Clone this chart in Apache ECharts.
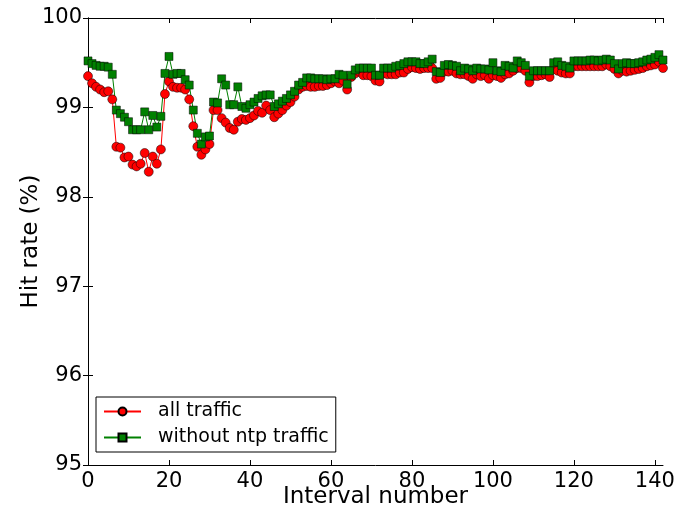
<!DOCTYPE html>
<html>
<head>
<meta charset="utf-8">
<script src="https://cdn.jsdelivr.net/npm/echarts@6/dist/echarts.min.js"></script>
<style>
html,body{margin:0;padding:0;background:#fff;}
#chart{width:689px;height:514px;}
</style>
</head>
<body>
<div id="chart"></div>
<script>
// ---- data ----
const seriesNames = ["all traffic", "without ntp traffic"];
const xTicks = [0, 20, 40, 60, 80, 100, 120, 140];
const yTicks = [95, 96, 97, 98, 99, 100];

const allTraffic = [
99.35,99.27,99.23,99.20,99.17,99.18,99.09,98.56,98.55,98.44,
98.45,98.36,98.34,98.37,98.49,98.28,98.45,98.37,98.53,99.15,
99.29,99.23,99.22,99.22,99.20,99.09,98.79,98.56,98.47,98.53,
98.59,98.97,98.97,98.88,98.83,98.77,98.75,98.84,98.87,98.86,
98.88,98.91,98.96,98.94,99.02,98.97,98.89,98.93,98.97,99.02,
99.06,99.12,99.20,99.23,99.24,99.23,99.23,99.24,99.24,99.25,
99.27,99.29,99.27,99.30,99.20,99.34,99.38,99.40,99.36,99.36,
99.35,99.30,99.29,99.38,99.37,99.37,99.37,99.39,99.39,
99.43,99.45,99.44,99.43,99.44,99.44,99.44,99.32,99.33,99.40,
99.40,99.41,99.38,99.37,99.37,99.35,99.32,99.37,99.35,99.36,
99.32,99.36,99.35,99.33,99.37,99.38,99.41,99.44,99.44,99.41,
99.28,99.35,99.35,99.36,99.37,99.34,99.43,99.41,99.39,99.38,
99.38,99.46,99.46,99.46,99.46,99.46,99.46,99.46,99.46,99.48,
99.46,99.43,99.38,99.41,99.40,99.41,99.42,99.43,99.44,99.46,
99.47,99.48,99.51,99.44
];

const withoutNtp = [
99.52,99.49,99.47,99.46,99.46,99.45,99.37,98.97,98.93,98.89,
98.84,98.75,98.75,98.75,98.95,98.75,98.91,98.78,98.90,99.38,
99.57,99.37,99.38,99.38,99.31,99.25,98.97,98.71,98.59,98.67,
98.68,99.06,99.05,99.32,99.25,99.03,99.03,99.23,99.01,98.99,
99.03,99.06,99.10,99.13,99.14,99.14,99.01,99.04,99.07,99.10,
99.14,99.18,99.25,99.28,99.33,99.33,99.32,99.32,99.32,99.31,
99.32,99.32,99.37,99.36,99.26,99.36,99.42,99.44,99.44,99.44,
99.44,99.36,99.36,99.44,99.44,99.44,99.46,99.47,99.49,
99.51,99.51,99.51,99.49,99.49,99.51,99.54,99.40,99.39,99.47,
99.48,99.47,99.46,99.41,99.44,99.43,99.41,99.44,99.43,99.43,
99.42,99.50,99.41,99.40,99.47,99.46,99.44,99.52,99.50,99.47,
99.35,99.41,99.41,99.41,99.41,99.41,99.50,99.51,99.47,99.46,
99.44,99.52,99.52,99.52,99.52,99.53,99.53,99.52,99.53,99.54,
99.53,99.49,99.43,99.49,99.50,99.49,99.49,99.50,99.51,99.53,
99.54,99.56,99.59,99.53
];

// ---- chart ----
const toPairs = arr => arr.map((v, i) => [i, v]);
const FONT = "DejaVu Sans";
const xMin = xTicks[0], xMax = 142, xStep = xTicks[1] - xTicks[0];
const yMin = yTicks[0], yMax = yTicks[yTicks.length - 1], yStep = yTicks[1] - yTicks[0];

const chart = echarts.init(document.getElementById('chart'), null, {renderer: 'canvas'});

const baseAxisLine = {show: true, lineStyle: {color: '#000', width: 1}};
const tickStyle = {show: true, inside: true, length: 5, lineStyle: {color: '#000', width: 1}};

chart.setOption({
  animation: false,
  backgroundColor: '#fff',
  grid: {left: 88, right: 26, top: 18, bottom: 35, containLabel: false},
  legend: {
    orient: 'vertical',
    left: 96, top: 397,
    data: seriesNames,
    borderColor: '#000', borderWidth: 1, borderRadius: 0,
    padding: [5, 7, 5, 7],
    itemWidth: 37, itemHeight: 10, itemGap: 7,
    backgroundColor: '#fff',
    textStyle: {fontFamily: FONT, fontSize: 19, color: '#000', padding: [0, 0, 0, 12]}
  },
  xAxis: [{
    type: 'value', min: xMin, max: xMax, interval: xStep,
    name: 'Interval number', nameLocation: 'middle', nameGap: 21, nameMoveOverlap: false,
    nameTextStyle: {fontFamily: FONT, fontSize: 23, color: '#000'},
    axisLine: baseAxisLine, axisTick: tickStyle,
    axisLabel: {fontFamily: FONT, fontSize: 21, color: '#000', margin: 6, showMaxLabel: false},
    splitLine: {show: false}
  }, {
    type: 'value', position: 'top', min: xMin, max: xMax, interval: xStep,
    axisLine: baseAxisLine, axisTick: tickStyle, axisLabel: {show: false}, splitLine: {show: false}
  }],
  yAxis: [{
    type: 'value', min: yMin, max: yMax, interval: yStep,
    name: 'Hit rate (%)', nameLocation: 'middle', nameGap: 45, nameRotate: 90, nameMoveOverlap: false,
    nameTextStyle: {fontFamily: FONT, fontSize: 23, color: '#000'},
    axisLine: baseAxisLine, axisTick: tickStyle,
    axisLabel: {fontFamily: FONT, fontSize: 21, color: '#000', margin: 6},
    splitLine: {show: false}
  }, {
    type: 'value', position: 'right', min: yMin, max: yMax, interval: yStep,
    axisLine: baseAxisLine, axisTick: tickStyle, axisLabel: {show: false}, splitLine: {show: false}
  }],
  series: [{
    name: seriesNames[0], type: 'line', data: toPairs(allTraffic),
    symbol: 'circle', symbolSize: 9, showAllSymbol: true,
    lineStyle: {color: '#ff0000', width: 1},
    itemStyle: {color: '#ff0000', borderColor: '#000', borderWidth: 0.5},
    clip: true
  }, {
    name: seriesNames[1], type: 'line', data: toPairs(withoutNtp),
    symbol: 'rect', symbolSize: 8, showAllSymbol: true,
    lineStyle: {color: '#008000', width: 1},
    itemStyle: {color: '#008000', borderColor: '#000', borderWidth: 0.5},
    clip: true
  }]
});
</script>
</body>
</html>
